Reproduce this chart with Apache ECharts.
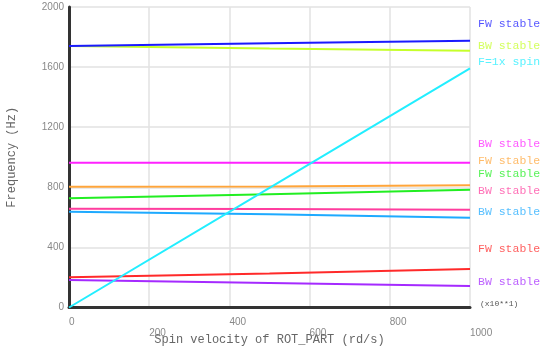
<!DOCTYPE html>
<html>
<head>
<meta charset="utf-8">
<script src="https://cdn.jsdelivr.net/npm/echarts@6/dist/echarts.min.js"></script>
<style>html,body{margin:0;padding:0;background:#fff}#c{width:540px;height:352px}</style>
</head>
<body>
<div id="c"></div>
<script>
// Spin velocity samples (rd/s, x10)
var speeds = [0, 500, 1000];
// Frequencies (Hz) per mode
var fwBlue = [1740, 1758, 1776];
var bwYellow = [1740, 1724, 1709];
var spin1x = [0, 796, 1592];
var bwMagenta = [964, 964, 964];
var fwOrange = [804, 806, 813];
var fwGreen = [727, 754, 784];
var bwPink = [658, 655, 651];
var bwLightBlue = [638, 620, 598];
var fwRed = [201, 226, 256];
var bwPurple = [183, 163, 143];
var labels = ['FW stable', 'BW stable', 'F=1x spin', 'BW stable', 'FW stable', 'FW stable', 'BW stable', 'BW stable', 'FW stable', 'BW stable'];
var xTicks = [0, 200, 400, 600, 800, 1000];
var yTicks = [0, 400, 800, 1200, 1600, 2000];

var seriesData = [fwBlue, bwYellow, spin1x, bwMagenta, fwOrange, fwGreen, bwPink, bwLightBlue, fwRed, bwPurple];
var colors = ['#1a1aff', '#c6ff2a', '#22eeff', '#ff22ff', '#ffa53a', '#22ee22', '#ff3d9e', '#1eaaff', '#ff2a2a', '#a52aff'];
var labelY = [25, 47, 63, 145, 162, 175, 192, 213, 250, 283];

var drawOrder = [1, 0, 3, 4, 5, 6, 7, 8, 9, 2];
var series = drawOrder.map(function (i) {
  return {
    type: 'line',
    name: labels[i] + i,
    data: speeds.map(function (s, k) { return [s, seriesData[i][k]]; }),
    symbol: 'none',
    lineStyle: { color: colors[i], width: 2 },
    silent: true,
    animation: false
  };
});

var graphics = labels.map(function (t, i) {
  return {
    type: 'text', left: 478, top: labelY[i] - 7,
    style: { text: t, fill: colors[i], opacity: 0.75, font: '11.5px "Liberation Mono", monospace' }
  };
});
graphics.push({
  type: 'text', left: 480, top: 300,
  style: { text: '(x10**1)', fill: '#555', font: '8px "Liberation Mono", monospace' }
});

var chart = echarts.init(document.getElementById('c'), null, { renderer: 'canvas' });
chart.setOption({
  animation: false,
  backgroundColor: '#fff',
  grid: { left: 69, right: 70, top: 7, bottom: 44.5, containLabel: false, outerBoundsMode: 'none' },
  xAxis: {
    type: 'value', min: xTicks[0], max: xTicks[xTicks.length - 1], interval: 200,
    name: 'Spin velocity of ROT_PART (rd/s)', nameLocation: 'middle', nameGap: 26, nameMoveOverlap: false,
    nameTextStyle: { color: '#666', fontFamily: 'Liberation Mono', fontSize: 12 },
    axisLine: { show: true, lineStyle: { color: '#333', width: 3 } },
    axisTick: { show: false },
    splitLine: { show: true, lineStyle: { color: '#e2e2e2', width: 1.5 } },
    axisLabel: {
      color: '#888', fontSize: 10, fontFamily: 'Liberation Sans', align: 'left', margin: 9, lineHeight: 11,
      showMaxLabel: true, showMinLabel: true, hideOverlap: false,
      formatter: function (v) { return (Math.round(v / 200) % 2 === 1) ? '\n' + v : '' + v; }
    }
  },
  yAxis: {
    type: 'value', min: yTicks[0], max: yTicks[yTicks.length - 1], interval: 400,
    name: 'Frequency (Hz)', nameLocation: 'middle', nameGap: 51, nameRotate: 90, nameMoveOverlap: false,
    nameTextStyle: { color: '#666', fontFamily: 'Liberation Mono', fontSize: 12 },
    axisLine: { show: true, lineStyle: { color: '#333', width: 3 } },
    axisTick: { show: false },
    splitLine: { show: true, lineStyle: { color: '#e2e2e2', width: 1.5 } },
    axisLabel: { color: '#888', fontSize: 10, fontFamily: 'Liberation Sans', margin: 5,
      formatter: function (v) { return '' + v; } }
  },
  series: series,
  graphic: graphics
});
</script>
</body>
</html>
